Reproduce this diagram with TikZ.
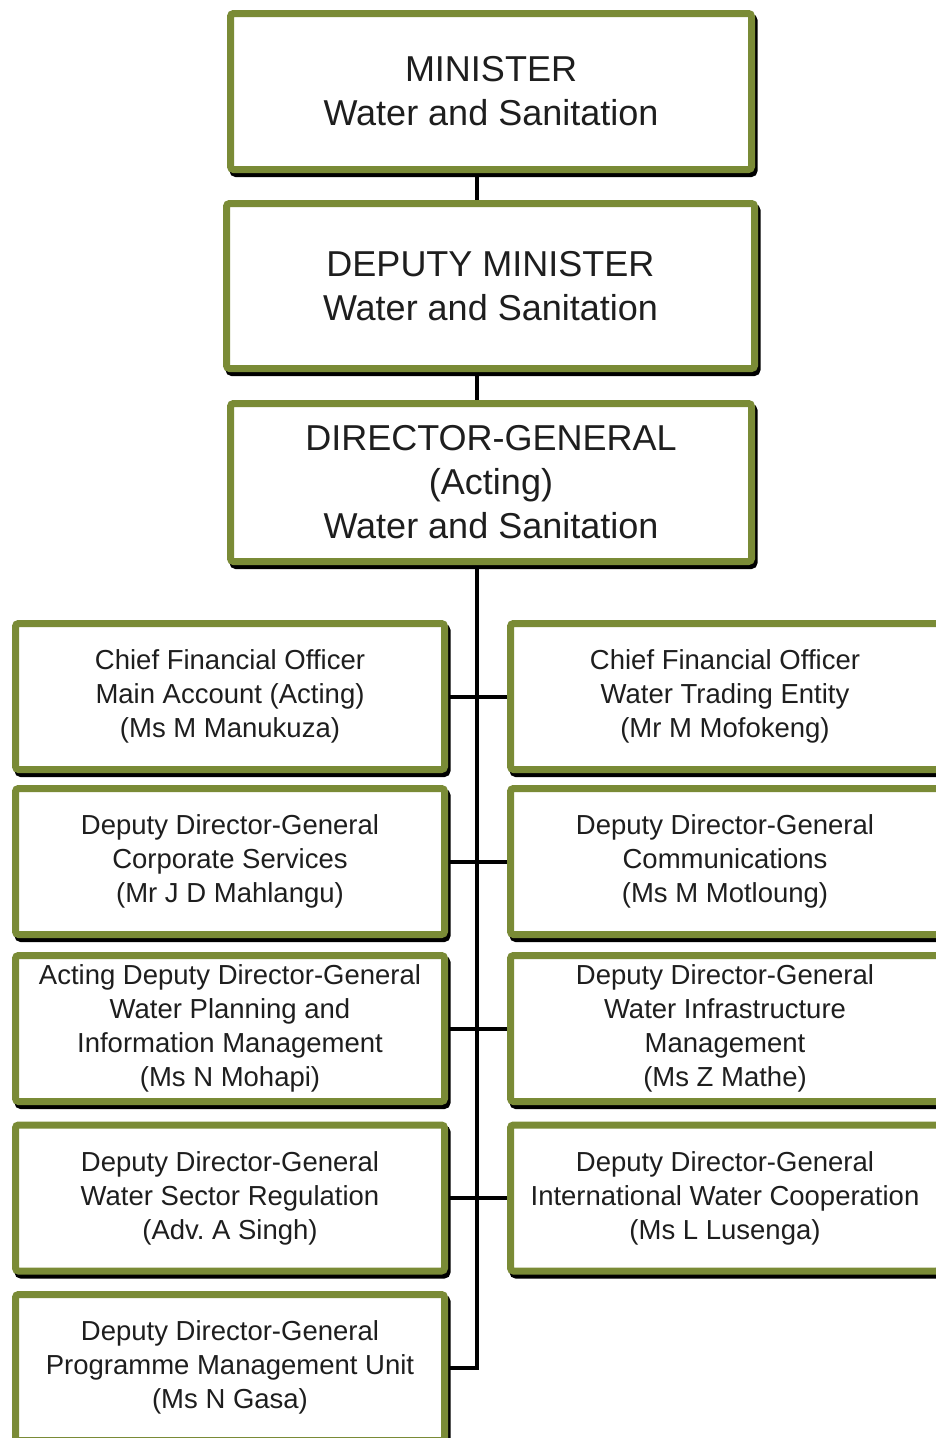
\documentclass[tikz,border=0pt]{standalone}
\usepackage{fontspec}
\setmainfont{Liberation Sans}
\usetikzlibrary{shadows,backgrounds}
\definecolor{boxgreen}{RGB}{122,139,54}
\definecolor{boxtext}{RGB}{30,30,30}
\frenchspacing

\begin{document}
\begin{tikzpicture}[x=1pt, y=-1pt,
		box/.style={draw=boxgreen, line width=7pt, fill=white, rounded corners=3pt, align=center, text=boxtext,
			drop shadow={shadow xshift=2.5pt, shadow yshift=-4pt, fill=black, draw=black, line width=7pt, opacity=1}},
		topbox/.style={box, minimum width=521pt, font=\fontsize{36}{44}\selectfont},
		unitbox/.style={box, minimum width=429pt, minimum height=146pt, font=\fontsize{27.5}{34}\selectfont},
		link/.style={draw=black, line width=4pt}]

	\useasboundingbox (0,0) rectangle (936,1438);
	\coordinate (spine) at (477,0);

	\node[topbox, minimum height=156pt] (minister) at (491,91.5) {MINISTER\\Water and Sanitation};
	\node[topbox, minimum width=528pt, minimum height=165pt] (deputy) at (490.5,286) {DEPUTY MINISTER\\Water and Sanitation};
	\node[topbox, minimum height=158pt] (dg) at (491,482.5) {DIRECTOR-GENERAL\\(Acting)\\Water and Sanitation};

	% linker kolom
	\node[unitbox] (l1) at (230,696.5) {Chief Financial Officer\\Main Account (Acting)\\(Ms M Manukuza)};
	\node[unitbox] (l2) at (230,861.5) {Deputy Director-General\\Corporate Services\\(Mr J D Mahlangu)};
	\node[unitbox] (l3) at (230,1028.5) {Acting Deputy Director-General\\Water Planning and\\Information Management\\(Ms N Mohapi)};
	\node[unitbox] (l4) at (230,1198) {Deputy Director-General\\Water Sector Regulation\\(Adv. A Singh)};
	\node[unitbox] (l5) at (230,1367.5) {Deputy Director-General\\Programme Management Unit\\(Ms N Gasa)};

	% rechter kolom
	\node[unitbox] (r1) at (725,696.5) {Chief Financial Officer\\Water Trading Entity\\(Mr M Mofokeng)};
	\node[unitbox] (r2) at (725,861.5) {Deputy Director-General\\Communications\\(Ms M Motloung)};
	\node[unitbox] (r3) at (725,1028.5) {Deputy Director-General\\Water Infrastructure\\Management\\(Ms Z Mathe)};
	\node[unitbox] (r4) at (725,1198) {Deputy Director-General\\International Water Cooperation\\(Ms L Lusenga)};

	\begin{scope}[on background layer]
		\draw[link] (minister.south -| spine) -- (deputy.north -| spine);
		\draw[link] (deputy.south -| spine) -- (dg.north -| spine);
		\draw[link] (dg.south -| spine) -- (l5.east -| spine) -- (l5.east);
		\foreach \i in {1,...,4}
			\draw[link] (l\i.east) -- (r\i.west);
	\end{scope}

\end{tikzpicture}
\end{document}
